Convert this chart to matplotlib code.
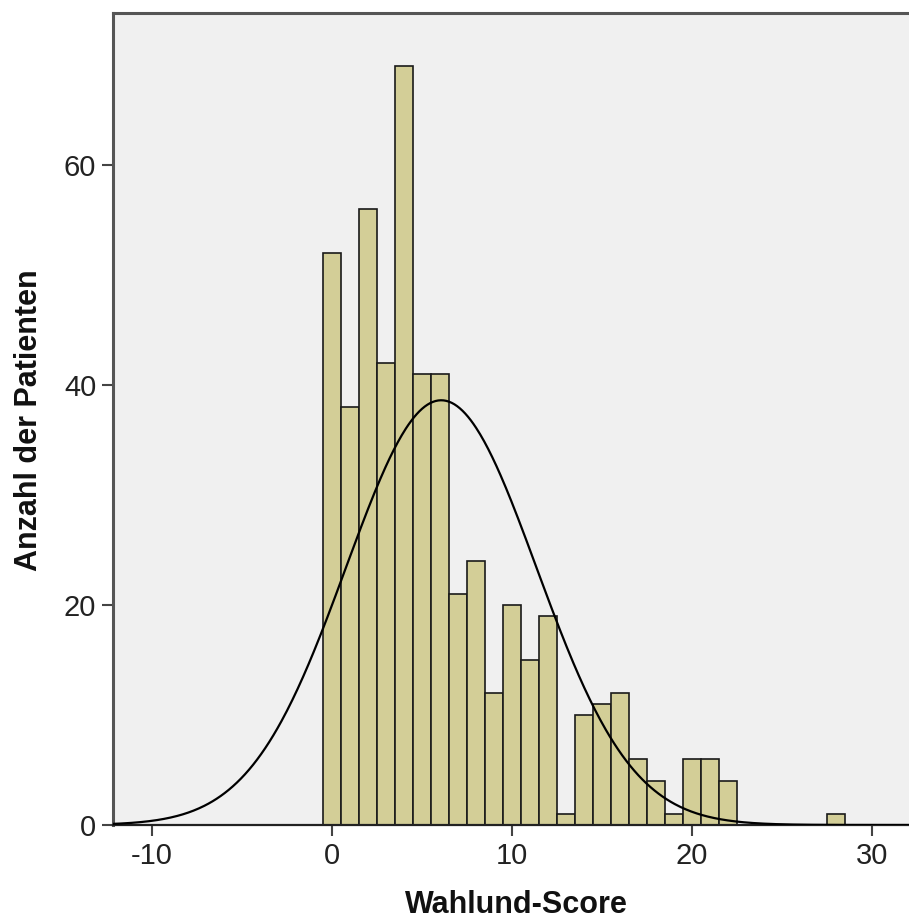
import numpy as np
import matplotlib
matplotlib.use("Agg")
import matplotlib.pyplot as plt

scores = list(range(0, 29))
counts = [52, 38, 56, 42, 69, 41, 41, 21, 24, 12, 20, 15, 19, 1, 10, 11, 12,
          6, 4, 1, 6, 6, 4, 0, 0, 0, 0, 0, 1]
xticks = [-10, 0, 10, 20, 30]
yticks = [0, 20, 40, 60]
xlabel = "Wahlund-Score"
ylabel = "Anzahl der Patienten"

plt.rcParams['font.family'] = ['Liberation Sans', 'DejaVu Sans']
plt.rcParams['axes.unicode_minus'] = False

fig = plt.figure(figsize=(9.09, 9.22), dpi=100)
W, H = 909, 922
ax = fig.add_axes([113 / W, 1 - 825 / H, (915 - 113) / W, (825 - 13) / H])
ax.set_facecolor('#F0F0F0')

ax.bar(scores, counts, width=1.0, color='#D3CE97', edgecolor='#1a1a1a',
       linewidth=1.2, zorder=2)

data = np.repeat(np.array(scores, dtype=float), counts)
mu = data.mean()
sd = data.std(ddof=1)
n = len(data)
xs = np.linspace(-12.5, 32.5, 600)
ys = n * 1.0 / (sd * np.sqrt(2 * np.pi)) * np.exp(-0.5 * ((xs - mu) / sd) ** 2)
ax.plot(xs, ys, color='black', linewidth=1.6, zorder=3)

ax.set_xlim(-12.17, 32.4)
ax.set_ylim(0, (825 - 13) / 11)
ax.set_xticks(xticks)
ax.set_yticks(yticks)
ax.tick_params(axis='both', direction='out', length=8, width=1.5,
               colors='#444444', labelcolor='#222222', labelsize=21, pad=4)

for s in ['left', 'top']:
    ax.spines[s].set_color('#555555')
    ax.spines[s].set_linewidth(2.2)
ax.spines['bottom'].set_color('#222222')
ax.spines['bottom'].set_linewidth(1.6)
ax.spines['right'].set_visible(False)

fig.text(516 / W, 1 - 905 / H, xlabel, fontsize=22, fontweight='bold',
         ha='center', va='center', color='#111111')
fig.text(29 / W, 1 - 420 / H, ylabel, fontsize=22, fontweight='bold',
         ha='center', va='center', rotation=90, color='#111111')

fig.savefig('out.png', dpi=100)
